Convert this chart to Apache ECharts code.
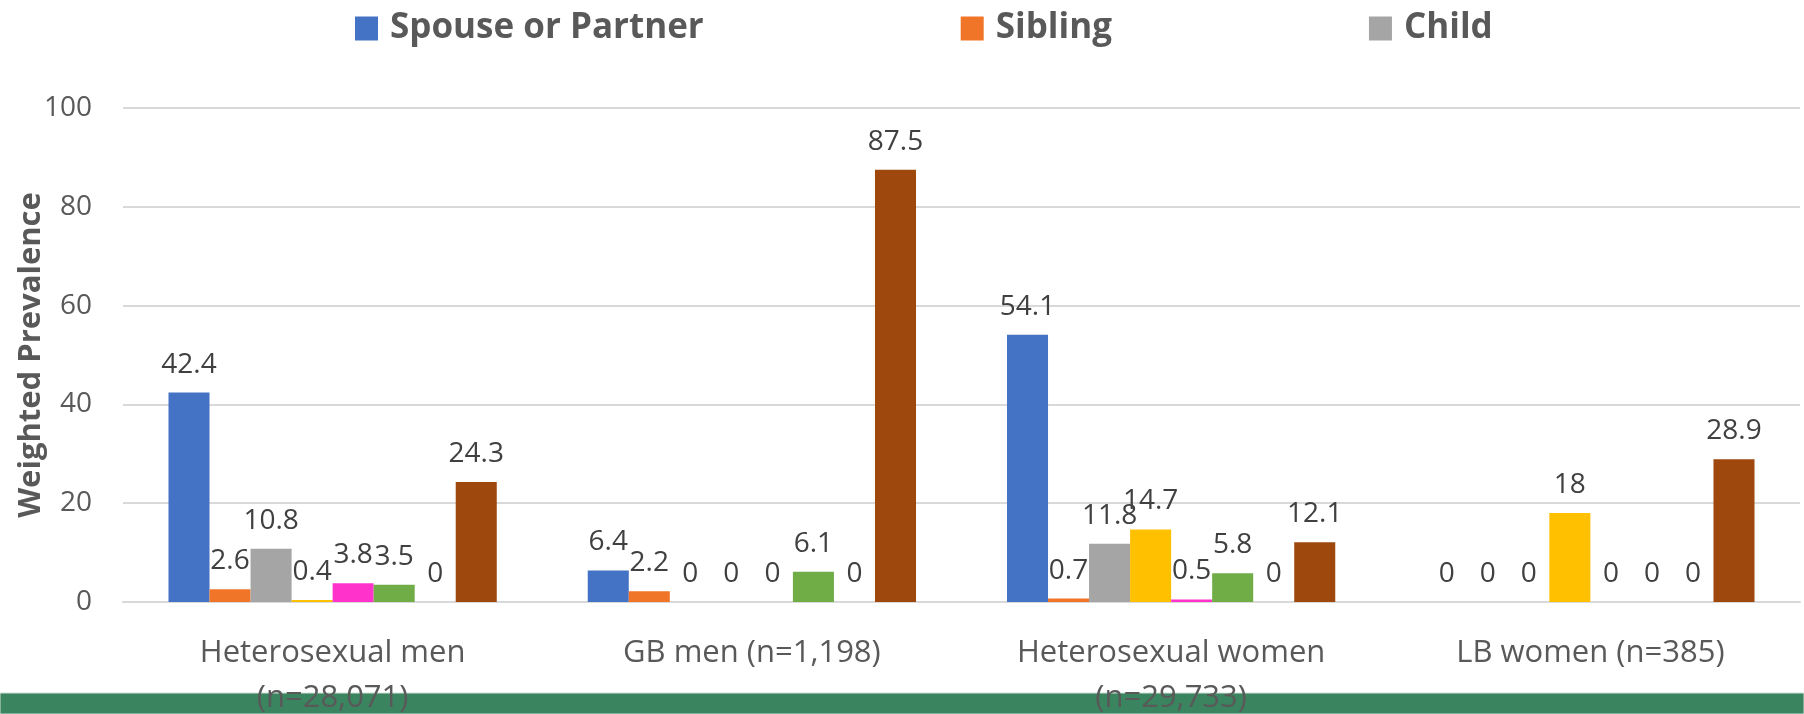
<!DOCTYPE html>
<html><head><meta charset="utf-8">
<script src="https://cdn.jsdelivr.net/npm/echarts@6/dist/echarts.min.js"></script>
<style>html,body{margin:0;padding:0;background:#fff}#c{width:1804px;height:714px}</style>
</head><body><div id="c"></div>
<script>
const categories = ['Heterosexual men\n(n=28,071)', 'GB men (n=1,198)', 'Heterosexual women\n(n=29,733)', 'LB women (n=385)'];
const seriesNames = ['Spouse or Partner', 'Sibling', 'Child', 'Parent', 'Other relative', 'Friend', 'Other', 'Unrelated'];
const spouse = [42.4, 6.4, 54.1, 0];
const sibling = [2.6, 2.2, 0.7, 0];
const child = [10.8, 0, 11.8, 0];
const parent = [0.4, 0, 14.7, 18];
const otherRelative = [3.8, 0, 0.5, 0];
const friend = [3.5, 6.1, 5.8, 0];
const other = [0, 0, 0, 0];
const unrelated = [24.3, 87.5, 12.1, 28.9];
const yTicks = [0, 20, 40, 60, 80, 100];
const colors = ['#4472C4', '#F07528', '#A5A5A5', '#FFC000', '#FF33CC', '#70AD47', '#264478', '#9E480E'];
const allData = [spouse, sibling, child, parent, otherRelative, friend, other, unrelated];

const FONT = 'Open Sans';
const chart = echarts.init(document.getElementById('c'));
chart.setOption({
  animation: false,
  color: colors,
  graphic: [{
    type: 'rect', z: -10, silent: true,
    shape: { x: 0, y: 693, width: 1804, height: 21 },
    style: { fill: '#3A8560', stroke: '#CFE0D6', lineWidth: 1 }
  }],
  legend: {
    data: seriesNames.slice(0, 3),
    top: 6, left: 350,
    itemWidth: 23, itemHeight: 24, itemGap: 257,
    icon: 'rect',
    textStyle: { fontFamily: FONT, fontWeight: 'bold', fontSize: 35, color: '#595959', padding: [0, 0, 0, 7] }
  },
  grid: { left: 123, right: 4, top: 108, bottom: 112, outerBoundsMode: 'none', containLabel: false },
  xAxis: {
    type: 'category', data: categories,
    axisTick: { show: false },
    axisLine: { lineStyle: { color: '#D9D9D9', width: 2 } },
    axisLabel: { fontFamily: FONT, fontSize: 31, color: '#595959', margin: 29, lineHeight: 45, interval: 0 }
  },
  yAxis: {
    type: 'value', min: 0, max: 100, interval: 20,
    name: 'Weighted Prevalence', nameLocation: 'middle', nameGap: 76, nameRotate: 90,
    nameMoveOverlap: false,
    nameTextStyle: { fontFamily: FONT, fontWeight: 'bold', fontSize: 31, color: '#595959' },
    axisLabel: { fontFamily: FONT, fontSize: 28, color: '#595959', margin: 31,
      formatter: v => yTicks.includes(v) ? String(v) : '' },
    splitLine: { lineStyle: { color: '#D9D9D9', width: 2 } }
  },
  series: seriesNames.map((n, i) => ({
    name: n, type: 'bar', data: allData[i],
    barGap: '0%', barCategoryGap: '21.7%',
    label: { show: true, position: 'top', distance: 14, fontFamily: FONT, fontSize: 28, color: '#404040' }
  }))
});
</script></body></html>
